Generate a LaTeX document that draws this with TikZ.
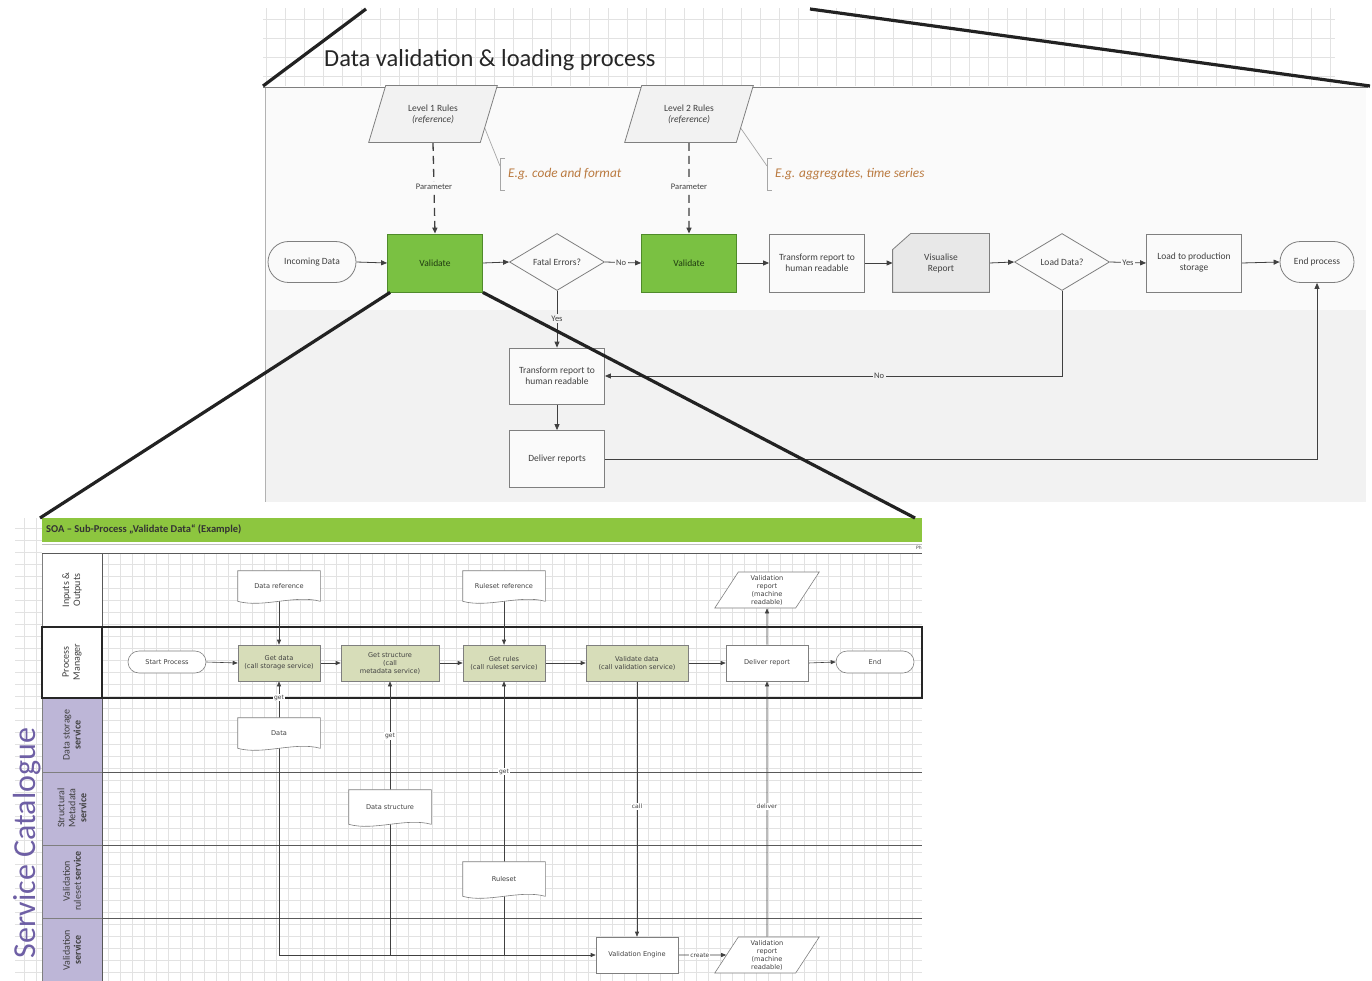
\documentclass[tikz,border=0pt]{standalone}
\usepackage{fontspec}
\setmainfont{Carlito}
\newfontfamily\dv{DejaVu Sans}
\usetikzlibrary{shapes.geometric,shapes.misc,arrows.meta,calc}
\pgfdeclarelayer{bg}
\pgfdeclarelayer{lines}
\pgfdeclarelayer{shapes}
\pgfdeclarelayer{fg}
\pgfsetlayers{bg,lines,shapes,main,fg}
\definecolor{txt}{HTML}{404040}
\definecolor{bgtop}{HTML}{FAFAFA}
\definecolor{bglow}{HTML}{F2F2F2}
\definecolor{valgreen}{HTML}{7AC142}
\definecolor{valborder}{HTML}{4F8A2A}
\definecolor{valtext}{HTML}{1F3A10}
\definecolor{bargreen}{HTML}{8DC63F}
\definecolor{getfill}{HTML}{D7DDB9}
\definecolor{lanepurple}{HTML}{BDB6D7}
\definecolor{catpurple}{HTML}{6E5FA5}
\definecolor{annot}{HTML}{BA7A40}
\definecolor{boxline}{HTML}{7F7F7F}
\definecolor{gridc}{HTML}{E2E2E2}
\definecolor{zoomline}{HTML}{222222}
\newcommand\docoutline[1]{\draw[draw=boxline, line width=0.6pt, fill=white] (#1.south west) -- (#1.north west) -- (#1.north east) -- (#1.south east) .. controls +(-25,-7) and +(25,7) .. (#1.south west) -- cycle;}
\begin{document}
\begin{tikzpicture}[x=1pt,y=-1pt,
  base/.style={draw=boxline, line width=0.8pt, text=txt, font=\fontsize{9.5}{11}\selectfont, align=center, inner sep=1pt},
  proc/.style={base, rectangle, fill=gray!4, minimum width=95pt, minimum height=58pt},
  valbox/.style={proc, fill=valgreen, draw=valborder, text=valtext},
  term/.style={base, rounded rectangle, fill=gray!4, minimum width=90pt, minimum height=41pt},
  dec/.style={base, diamond, fill=gray!4, minimum width=95pt, minimum height=57pt, inner sep=0pt},
  para/.style={base, trapezium, trapezium left angle=66, trapezium right angle=114, trapezium stretches=true, fill=bglow, minimum width=129pt, minimum height=57pt},
  plain/.style={base, draw=none, rectangle, minimum width=96pt, minimum height=58pt},
  arr/.style={-{Triangle[length=6pt,width=5pt]}, draw=txt, line width=0.8pt},
  elbl/.style={font=\fontsize{8.5}{10}\selectfont, text=txt, fill=bgtop, inner sep=1.5pt},
  sbase/.style={draw=boxline, line width=0.6pt, text=txt, font=\dv\fontsize{6.6}{8}\selectfont, align=center, inner sep=1pt},
  sproc/.style={sbase, rectangle, fill=getfill, minimum width=82pt, minimum height=36pt},
  sterm/.style={sbase, rounded rectangle, fill=white, minimum width=80pt, minimum height=22pt},
  sdoc/.style={sbase, draw=none, rectangle, minimum width=82pt, minimum height=30pt},
  spara/.style={sbase, trapezium, trapezium left angle=66, trapezium right angle=114, trapezium stretches=true, fill=white, minimum width=105pt, minimum height=36pt},
  sarr/.style={-{Triangle[length=5pt,width=4pt]}, draw=txt, line width=0.6pt},
  slbl/.style={font=\dv\fontsize{6}{7}\selectfont, text=txt, fill=white, inner sep=1pt},
  lanelbl/.style={rotate=90, align=center, font=\fontsize{10}{11}\selectfont, text=txt},
  zl/.style={draw=zoomline, line width=3.2pt}
]
\useasboundingbox (0,0) rectangle (1372,981);
% ---------------- backgrounds ----------------
\begin{pgfonlayer}{bg}
  \fill[white] (0,0) rectangle (1372,981);
  \draw[gridc, line width=0.6pt] (263,86) grid[step=19pt] (1335,8);
  \fill[bgtop] (265,88) rectangle (1366,310);
  \fill[bglow] (265,310) rectangle (1366,502);
  \draw[boxline, line width=0.8pt] (263,87) -- (1368,87);
  \draw[gray!60, line width=0.6pt] (265,88) -- (265,502);
  \draw[gridc, line width=0.5pt] (15,981) grid[step=12pt] (922,518);
  \fill[bargreen] (42,518) rectangle (922,542);
  \fill[white] (42,542) rectangle (922,553);
  \draw[gray!50, line width=0.5pt] (42,544) -- (922,544);
  \draw[boxline, fill=white, line width=0.6pt] (42,553) rectangle (102,627);
  \draw[boxline, fill=white, line width=0.6pt] (42,627) rectangle (102,698);
  \draw[boxline, fill=lanepurple, line width=0.6pt] (42,698) rectangle (102,772);
  \draw[boxline, fill=lanepurple, line width=0.6pt] (42,772) rectangle (102,845);
  \draw[boxline, fill=lanepurple, line width=0.6pt] (42,845) rectangle (102,918);
  \draw[boxline, fill=lanepurple, line width=0.6pt] (42,918) rectangle (102,981);
  \draw[gray!70!black, line width=0.6pt] (42,553) -- (922,553);
  \draw[gray!70!black, line width=0.6pt] (102,553) -- (102,981);
  \draw[gray!70!black, line width=0.7pt] (102,772) -- (922,772);
  \draw[gray!70!black, line width=0.7pt] (102,845) -- (922,845);
  \draw[gray!70!black, line width=0.7pt] (102,918) -- (922,918);
  \draw[black!85, line width=2.8pt] (42,627) rectangle (922,698);
  \draw[black!85, line width=2.8pt] (102,627) -- (102,698);
\end{pgfonlayer}

% ---------------- texts of panels ----------------
\node[anchor=west, font=\fontsize{24.5}{28}\selectfont, text=black!85, inner sep=0pt] (title) at (324,60) {Data validation \& loading process};
\node[anchor=west, font=\bfseries\fontsize{10.5}{12}\selectfont, text=black!80, inner sep=0pt] (soa) at (46,529) {SOA -- Sub-Process „Validate Data“ (Example)};
\node[anchor=east, font=\dv\fontsize{4.5}{5}\selectfont, text=txt, inner sep=0pt] (ph) at (922,548) {Ph};
\node[rotate=90, font=\fontsize{32}{36}\selectfont, text=catpurple, inner sep=0pt] (sc) at (27,843) {Service Catalogue};
\node[lanelbl] (lio) at (72,590) {Inputs \&\\Outputs};
\node[lanelbl] (lpm) at (72,662) {Process\\Manager};
\node[lanelbl] (lds) at (72,735) {Data storage\\\textbf{service}};
\node[lanelbl] (lsm) at (72,808) {Structural\\Metadata\\\textbf{service}};
\node[lanelbl] (lvr) at (72,881) {Validation\\ruleset \textbf{service}};
\node[lanelbl] (lvs) at (72,950) {Validation\\\textbf{service}};

% ---------------- top process ----------------
\node[para] (lvl1) at (433,114) {Level 1 Rules\\\textit{(reference)}};
\node[para] (lvl2) at (689,114) {Level 2 Rules\\\textit{(reference)}};
\node[term] (inc) at (312,262) {Incoming Data};
\node[valbox] (val1) at (435,263) {Validate};
\node[dec] (fatal) at (557,262) {Fatal Errors?};
\node[valbox] (val2) at (689,263) {Validate};
\node[proc] (trans1) at (817,263) {Transform report to\\human readable};
\node[plain] (vis) at (941,263) {Visualise\\Report};
\node[dec] (load) at (1062,262) {Load Data?};
\node[proc] (prod) at (1194,263) {Load to production\\storage};
\node[term, minimum width=76pt] (endp) at (1317,262) {End process};
\node[proc, minimum height=56pt] (trans2) at (557,376) {Transform report to\\human readable};
\node[proc, minimum height=57pt] (deliver) at (557,459) {Deliver reports};

\node[anchor=west, font=\itshape\fontsize{13.3}{15}\selectfont, text=annot, inner sep=0pt] (ann1) at (508,174) {E.g. code and format};
\node[anchor=west, font=\itshape\fontsize{13.3}{15}\selectfont, text=annot, inner sep=0pt] (ann2) at (775,174) {E.g. aggregates, time series};
\coordinate (br1) at (500,166);
\coordinate (br2) at (767,166);

\begin{pgfonlayer}{shapes}
  \draw[boxline, line width=0.8pt, fill=gray!18] ([xshift=18pt]vis.north west) -- (vis.north east) -- (vis.south east) -- (vis.south west) -- ([yshift=-16pt]vis.north west) -- cycle;
\end{pgfonlayer}

\begin{pgfonlayer}{lines}
  \draw[arr, dash pattern=on 8pt off 5pt, line width=1.3pt] (lvl1.south) -- (val1.north) node[elbl, pos=0.48] {Parameter};
  \draw[arr, dash pattern=on 8pt off 5pt, line width=1.3pt] (lvl2.south) -- (val2.north) node[elbl, pos=0.48] {Parameter};
  \draw[gray!70, line width=0.7pt] ($(lvl1.bottom right corner)!0.25!(lvl1.top right corner)$) -- (br1);
  \draw[gray!70, line width=0.7pt] ($(lvl2.bottom right corner)!0.25!(lvl2.top right corner)$) -- (br2);
  \draw[gray!70, line width=0.8pt] (505,158) -- (500,158) -- (500,190) -- (505,190);
  \draw[gray!70, line width=0.8pt] (772,158) -- (767,158) -- (767,190) -- (772,190);
  \draw[arr] (inc.east) -- (val1.west);
  \draw[arr] (val1.east) -- (fatal.west);
  \draw[arr] (fatal.east) -- (val2.west) node[elbl, pos=0.45] {No};
  \draw[arr] (val2.east) -- (trans1.west);
  \draw[arr] (trans1.east) -- (vis.west);
  \draw[arr] (vis.east) -- (load.west);
  \draw[arr] (load.east) -- (prod.west) node[elbl, pos=0.5] {Yes};
  \draw[arr] (prod.east) -- (endp.west);
  \draw[arr] (fatal.south) -- (trans2.north) node[elbl, fill=bglow, pos=0.49] {Yes};
  \draw[arr] (load.south) |- (trans2.east) node[elbl, fill=bglow, pos=0.7] {No};
  \draw[arr] (trans2.south) -- (deliver.north);
  \draw[arr] (deliver.east) -| (endp.south);
\end{pgfonlayer}

% ---------------- bottom process ----------------
\node[sdoc] (dref) at (279,586) {Data reference};
\node[sdoc] (rref) at (504,586) {Ruleset reference};
\node[spara] (vrep1) at (767,590) {Validation\\report\\(machine\\readable)};
\node[sterm] (start) at (167,662) {Start Process};
\node[sproc] (getdata) at (279,663) {Get data\\(call storage service)};
\node[sproc, minimum width=98pt] (getstruct) at (390,663) {Get structure\\(call\\metadata service)};
\node[sproc] (getrules) at (504,663) {Get rules\\(call ruleset service)};
\node[sproc, minimum width=102pt] (valdata) at (637,663) {Validate data\\(call validation service)};
\node[sproc, fill=white] (delrep) at (767,663) {Deliver report};
\node[sterm] (endb) at (875,662) {End};
\node[sdoc] (datadoc) at (279,733) {Data};
\node[sdoc, minimum height=34pt] (structdoc) at (390,807) {Data structure};
\node[sdoc, minimum height=34pt] (rulesetdoc) at (504,879) {Ruleset};
\node[sproc, fill=white] (veng) at (637,955) {Validation Engine};
\node[spara] (vrep2) at (767,955) {Validation\\report\\(machine\\readable)};
\coordinate (j1) at (279,955);
\coordinate (j2) at (390,955);
\coordinate (j3) at (504,955);

\begin{pgfonlayer}{shapes}
  \docoutline{dref}
  \docoutline{rref}
  \docoutline{datadoc}
  \docoutline{structdoc}
  \docoutline{rulesetdoc}
\end{pgfonlayer}

\begin{pgfonlayer}{lines}
  \draw[sarr] (dref.south) -- (getdata.north);
  \draw[sarr] (rref.south) -- (getrules.north);
  \draw[sarr] (delrep.north) -- (vrep1.south);
  \draw[sarr] (start.east) -- (getdata.west);
  \draw[sarr] (getdata.east) -- (getstruct.west);
  \draw[sarr] (getstruct.east) -- (getrules.west);
  \draw[sarr] (getrules.east) -- (valdata.west);
  \draw[sarr] (valdata.east) -- (delrep.west);
  \draw[sarr] (delrep.east) -- (endb.west);
  \draw[sarr] (j1) -- (getdata.south) node[slbl, pos=0.94] {get};
  \draw[sarr] (j2) -- (getstruct.south) node[slbl, pos=0.80] {get};
  \draw[sarr] (j3) -- (getrules.south) node[slbl, pos=0.67] {get};
  \draw[sarr] (j1) -- (veng.west);
  \draw[sarr] (valdata.south) -- (veng.north) node[slbl, pos=0.49] {call};
  \draw[sarr] (vrep2.north) -- (delrep.south) node[slbl, pos=0.51] {deliver};
  \draw[sarr] (veng.east) -- (vrep2.west) node[slbl, pos=0.45] {create};
\end{pgfonlayer}

% ---------------- zoom lines ----------------
\coordinate (zt1) at (366,9);
\coordinate (zt0) at (263,86);
\coordinate (zt2) at (810,9);
\coordinate (zt3) at (1370,86);
\coordinate (zb1) at (40,518);
\coordinate (zb2) at (915,518);
\begin{pgfonlayer}{fg}
  \draw[zl] (zt0) -- (zt1);
  \draw[zl] (zt2) -- (zt3);
  \draw[zl] ([xshift=3pt]val1.south west) -- (zb1);
  \draw[zl] (val1.south east) -- (zb2);
\end{pgfonlayer}
\end{tikzpicture}
\end{document}
